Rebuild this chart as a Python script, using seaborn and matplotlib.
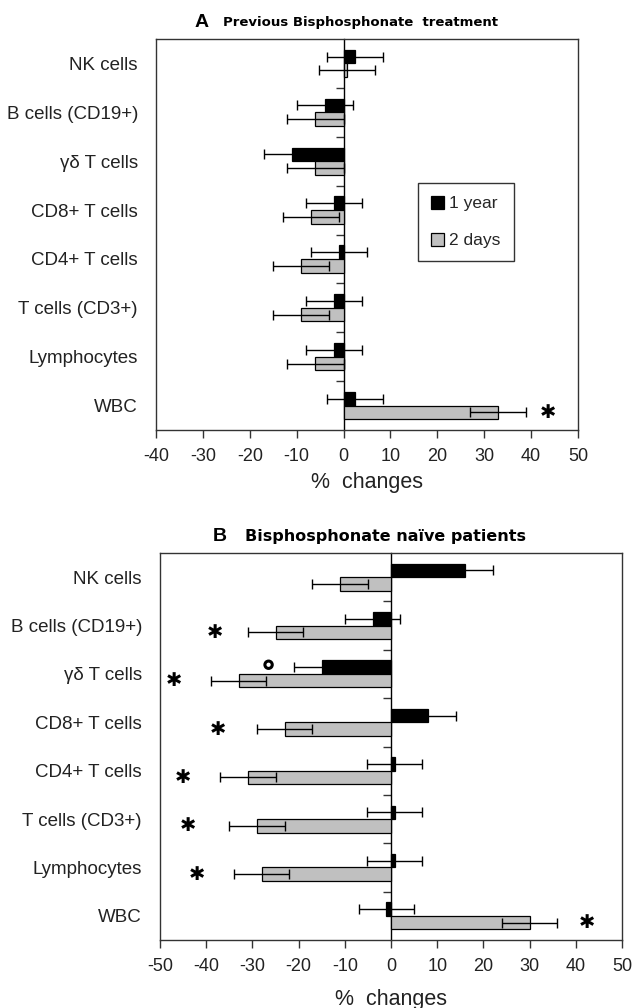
import numpy as np
import pandas as pd
import matplotlib
matplotlib.use("Agg")
import matplotlib.pyplot as plt
import seaborn as sns

# -----------------------------
# DATA
# -----------------------------
cells = ["NK cells", "B cells (CD19+)", "γδ T cells", "CD8+ T cells",
         "CD4+ T cells", "T cells (CD3+)", "Lymphocytes", "WBC"]
periods = ["1 year", "2 days"]

# panel A: previous bisphosphonate treatment
a_year = [2.5, -4, -11, -2, -1, -2, -2, 2.5]
a_days = [0.8, -6, -6, -7, -9, -9, -6, 33]
a_year_err = [6, 6, 6, 6, 6, 6, 6, 6]
a_days_err = [6, 6, 6, 6, 6, 6, 6, 6]
a_star_days = [None, None, None, None, None, None, None, 43.5]
a_circle_year = [None] * 8

# panel B: bisphosphonate naive patients
b_year = [16, -4, -15, 8, 0.8, 0.8, 0.8, -1]
b_days = [-11, -25, -33, -23, -31, -29, -28, 30]
b_year_err = [6, 6, 6, 6, 6, 6, 6, 6]
b_days_err = [6, 6, 6, 6, 6, 6, 6, 6]
b_star_days = [None, -38, -47, -37.5, -45, -44, -42, 42.5]
b_circle_year = [None, None, -26.5, None, None, None, None, None]

xticks_a = list(range(-40, 51, 10))
xticks_b = list(range(-50, 51, 10))

# -----------------------------
# STYLE
# -----------------------------
sns.set_theme(style="white")
plt.rcParams["font.family"] = ["Liberation Sans", "DejaVu Sans"]
plt.rcParams["axes.edgecolor"] = "#333333"
plt.rcParams["axes.linewidth"] = 1.0

colors = {"1 year": "black", "2 days": "#c0c0c0"}

fig = plt.figure(figsize=(6.34, 10.08), dpi=100)
ax_a = fig.add_axes([156 / 634, 1 - 430 / 1008, 422 / 634, 391 / 1008])
ax_b = fig.add_axes([160 / 634, 1 - 940 / 1008, 462 / 634, 387 / 1008])


def draw_panel(ax, year, days, year_err, days_err, star_days, circle_year,
               xticks, letter, title, letter_x, title_x, title_size, xlab_pad):
    df = pd.DataFrame({
        "cell": cells * 2,
        "period": [periods[0]] * len(cells) + [periods[1]] * len(cells),
        "value": list(year) + list(days),
    })
    sns.barplot(data=df, y="cell", x="value", hue="period", order=cells,
                hue_order=periods, palette=colors, orient="h", width=0.56,
                edgecolor="black", linewidth=0.9, errorbar=None,
                legend=(letter == "A"), ax=ax)

    # error bars + annotations from the bar positions
    for cont, vals, errs in zip(ax.containers, [year, days], [year_err, days_err]):
        ys = [p.get_y() + p.get_height() / 2 for p in cont]
        ax.errorbar(vals, ys, xerr=errs, fmt="none", ecolor="black",
                    elinewidth=1.0, capsize=3.5, capthick=1.0, zorder=5)
    ys_days = [p.get_y() + p.get_height() / 2 for p in ax.containers[1]]
    ys_year = [p.get_y() + p.get_height() / 2 for p in ax.containers[0]]
    for xs, y in zip(star_days, ys_days):
        if xs is not None:
            ax.text(xs, y, "✱", family="DejaVu Sans", fontsize=14,
                    ha="center", va="center", color="black")
    for xs, y in zip(circle_year, ys_year):
        if xs is not None:
            ax.scatter([xs], [y - 0.05], s=28, facecolors="none",
                       edgecolors="black", linewidths=2.2, zorder=6)

    ax.set_xlim(xticks[0], xticks[-1])
    ax.set_ylim(len(cells) - 0.5, -0.5)
    ax.set_xticks(xticks)
    ax.set_xticklabels([str(t) for t in xticks])
    ax.tick_params(axis="x", bottom=True, length=6, width=1, direction="out",
                   labelsize=13, pad=7, colors="#333333", labelcolor="#222222")
    ax.tick_params(axis="y", left=False, labelsize=13.5, pad=7,
                   labelcolor="#222222")
    ax.set_ylabel("")
    ax.set_xlabel("%  changes", fontsize=15.5, color="#222222",
                  labelpad=xlab_pad)
    for s in ax.spines.values():
        s.set_visible(True)
        s.set_color("#333333")

    # zero line with category separators (Excel style)
    zero_pos = (0 - xticks[0]) / (xticks[-1] - xticks[0])
    sec = ax.secondary_yaxis(zero_pos)
    sec.set_alignment("left")
    sec.set_yticks([i + 0.5 for i in range(len(cells) - 1)])
    sec.tick_params(axis="y", length=6, width=1, labelleft=False,
                    labelright=False, colors="#333333")
    sec.spines["left"].set_color("black")

    ax.text(letter_x, 1.0 + 17 / 391, letter, transform=ax.transAxes,
            fontsize=14, fontweight="bold", ha="center", va="center",
            color="black")
    ax.text(title_x, 1.0 + 17 / 391, title, transform=ax.transAxes,
            family="DejaVu Sans", fontsize=title_size, fontweight="bold",
            ha="left", va="center", color="black")


draw_panel(ax_a, a_year, a_days, a_year_err, a_days_err, a_star_days,
           a_circle_year, xticks_a, "A", "Previous Bisphosphonate  treatment",
           (202 - 156) / 422, (223 - 156) / 422, 9.5, 5)
draw_panel(ax_b, b_year, b_days, b_year_err, b_days_err, b_star_days,
           b_circle_year, xticks_b, "B", "Bisphosphonate naïve patients",
           (220 - 160) / 462, (245 - 160) / 462, 11.5, 10)

leg = ax_a.legend(loc="upper left", bbox_to_anchor=(0.621, 0.632),
                  frameon=True, fancybox=False, fontsize=12.5,
                  handlelength=0.75, handleheight=0.75, handletextpad=0.3,
                  labelspacing=1.25, borderpad=0.75, borderaxespad=0,
                  title=None)
leg.get_frame().set_edgecolor("black")
leg.get_frame().set_linewidth(1.0)
for h in leg.legend_handles:
    h.set_edgecolor("black")

fig.savefig("out.png", dpi=100, facecolor="white")
